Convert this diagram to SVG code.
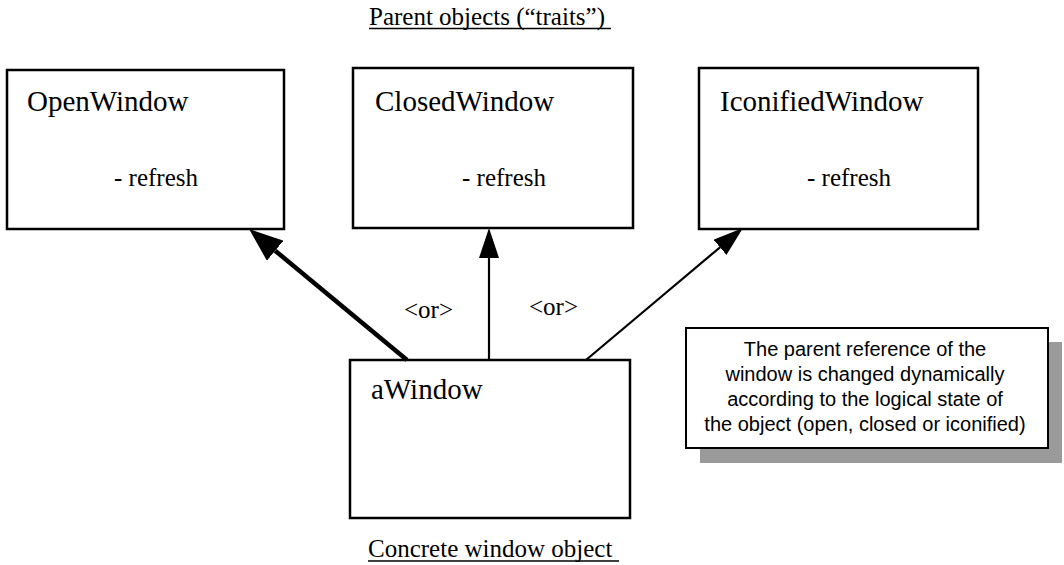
<svg xmlns="http://www.w3.org/2000/svg" width="1064" height="565" viewBox="0 0 1064 565">
<style>
.box{fill:#fff;stroke:#000;stroke-width:2.5}
.name{font-family:"Liberation Serif","Times New Roman",serif;font-size:29px;fill:#000}
.meth{font-family:"Liberation Serif","Times New Roman",serif;font-size:25px;fill:#000}
.cap{font-family:"Liberation Serif","Times New Roman",serif;font-size:25px;fill:#000}
.note{font-family:"Liberation Sans",Arial,sans-serif;font-size:20px;fill:#000;text-anchor:middle}
.ul{stroke:#000;stroke-width:1.3}
.conn{stroke:#000;fill:none}
</style>
<defs>
<marker id="headThick" markerUnits="userSpaceOnUse" markerWidth="34" markerHeight="26" refX="0" refY="13" orient="auto">
<path d="M0,0 L34,13 L0,26 z" fill="#000"/>
</marker>
<marker id="head" markerUnits="userSpaceOnUse" markerWidth="30" markerHeight="20" refX="0" refY="10" orient="auto">
<path d="M0,0 L30,10 L0,20 z" fill="#000"/>
</marker>
</defs>
<rect width="1064" height="565" fill="#fff"/>

<g id="title">
<text class="cap" x="369" y="25">Parent objects (“traits”)</text>
<line class="ul" x1="369" y1="28.5" x2="611" y2="28.5"/>
</g>

<g id="openwindow">
<rect class="box" x="7" y="70" width="277" height="159"/>
<text class="name" x="27" y="111">OpenWindow</text>
<text class="meth" x="114" y="186">- refresh</text>
</g>

<g id="closedwindow">
<rect class="box" x="353" y="68" width="280" height="160"/>
<text class="name" x="375" y="111">ClosedWindow</text>
<text class="meth" x="462" y="186">- refresh</text>
</g>

<g id="iconifiedwindow">
<rect class="box" x="699" y="68" width="279" height="161"/>
<text class="name" x="720" y="111">IconifiedWindow</text>
<text class="meth" x="807" y="186">- refresh</text>
</g>

<g id="awindow">
<rect class="box" x="350" y="360" width="280" height="158"/>
<text class="name" x="371" y="399">aWindow</text>
</g>

<g id="awindow-caption">
<text class="cap" x="368" y="557">Concrete window object</text>
<line class="ul" x1="368" y1="561" x2="619" y2="561"/>
</g>

<g id="connectors">
<line class="conn" stroke-width="4.5" x1="407" y1="360" x2="275.2" y2="250.7" marker-end="url(#headThick)"/>
<line class="conn" stroke-width="2.2" x1="489" y1="360" x2="489" y2="258" marker-end="url(#head)"/>
<line class="conn" stroke-width="2.2" x1="586" y1="360" x2="720" y2="247.3" marker-end="url(#head)"/>
<text class="meth" x="404" y="318">&lt;or&gt;</text>
<text class="meth" x="529" y="315">&lt;or&gt;</text>
</g>

<g id="note">
<rect x="700" y="342" width="362" height="121" fill="#9a9a9a"/>
<rect x="686" y="328" width="362" height="120" fill="#fff" stroke="#000" stroke-width="2"/>
<text class="note" x="865" y="356">The parent reference of the</text>
<text class="note" x="865" y="381">window is changed dynamically</text>
<text class="note" x="865" y="406">according to the logical state of</text>
<text class="note" x="865" y="431">the object (open, closed or iconified)</text>
</g>
</svg>
